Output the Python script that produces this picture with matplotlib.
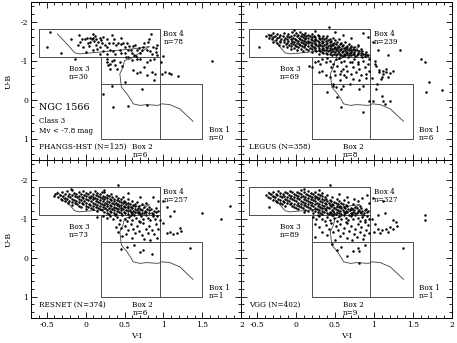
import numpy as np
import matplotlib
matplotlib.use('Agg')
import matplotlib.pyplot as plt
from matplotlib.ticker import MultipleLocator

plt.rcParams['font.family'] = ['DejaVu Serif']
plt.rcParams['axes.unicode_minus'] = False

# isochrone track (V-I, U-B), same in every panel
iso_vi = [-0.36, -0.25, -0.14, -0.08, 0.14, 0.40, 0.61, 0.82, 0.70, 0.57, 0.50, 0.48,
          0.44, 0.45, 0.46, 0.53, 0.59, 0.61, 0.70, 0.78, 0.93, 0.98, 1.08, 1.21, 1.30, 1.38]
iso_ub = [-1.68, -1.45, -1.20, -1.17, -1.21, -1.26, -1.30, -1.36, -1.20, -1.04, -1.00, -0.83,
          -0.66, -0.49, -0.32, -0.15, 0.03, 0.11, 0.15, 0.13, 0.15, 0.11, 0.13, 0.24, 0.41, 0.56]

surveys = ['PHANGS-HST (N=125)', 'LEGUS (N=358)', 'RESNET (N=374)', 'VGG (N=402)']
box_counts = [[0, 6, 30, 78], [6, 8, 69, 239], [1, 6, 73, 257], [1, 9, 89, 327]]

phangs = [
    (-0.45, -1.72), (-0.50, -1.34), (-0.31, -1.20), (-0.19, -1.54), (-0.09, -1.66), (-0.07, -1.47),
    (-0.10, -1.40), (-0.01, -1.54), (0.02, -1.59), (0.06, -1.58), (0.06, -1.48), (0.08, -1.54),
    (0.10, -1.59), (0.11, -1.51), (0.13, -1.40), (0.14, -1.54), (0.16, -1.48), (0.18, -1.59),
    (0.19, -1.35), (0.21, -1.46), (0.23, -1.61), (0.25, -1.40), (0.27, -1.54), (0.31, -1.27),
    (0.34, -1.66), (0.35, -1.46), (0.37, -1.54), (0.39, -1.40), (0.41, -1.46), (0.44, -1.27),
    (0.45, -1.57), (0.48, -1.46), (0.51, -1.35), (0.53, -1.44), (0.55, -1.28), (0.58, -1.27),
    (0.61, -1.37), (0.64, -1.40), (0.66, -1.27), (0.69, -1.31), (0.72, -1.27), (0.75, -1.46),
    (0.79, -1.27), (0.80, -1.48), (0.82, -1.54), (0.84, -1.67), (0.85, -1.18), (0.87, -1.35),
    (0.90, -1.31), (0.92, -1.40), (0.38, -1.16), (0.27, -1.18), (0.19, -1.16), (0.10, -1.27),
    (0.01, -1.22), (-0.03, -1.35), (0.03, -1.46), (0.09, -1.68), (0.12, -1.62), (0.20, -1.52),
    (0.30, -1.45), (0.28, -1.35), (0.46, -1.42), (0.50, -1.20), (0.60, -1.20), (0.70, -1.20),
    (0.62, -1.15), (0.45, -1.20), (0.35, -1.25), (0.15, -1.30), (0.05, -1.37), (0.22, -1.24),
    (0.56, -1.38), (0.74, -1.35), (0.83, -1.25), (0.90, -1.22), (-0.05, -1.55), (0.65, -1.12),
    (-0.14, -1.03), (0.27, -1.05), (0.28, -0.97), (0.29, -0.88), (0.31, -0.92), (0.34, -1.00),
    (0.36, -1.02), (0.38, -0.88), (0.40, -0.79), (0.44, -0.97), (0.52, -1.08), (0.55, -1.10),
    (0.59, -1.01), (0.66, -1.05), (0.70, -1.03), (0.75, -0.84), (0.79, -0.97), (0.83, -1.01),
    (0.88, -1.05), (0.92, -1.13), (0.61, -0.75), (0.66, -0.68), (0.70, -0.71), (0.79, -0.62),
    (0.85, -0.71), (0.89, -0.66), (0.51, -0.45), (0.88, -0.49), (0.32, -0.78), (0.47, -0.85),
    (0.98, -0.66), (1.02, -0.71), (1.07, -0.68), (1.10, -0.66), (1.18, -0.60), (1.62, -0.98),
    (0.97, -0.95), (1.00, -1.12),
    (0.22, -0.13), (0.34, -0.34), (0.35, 0.18), (0.55, 0.16), (0.73, -0.26), (0.79, 0.13)]

legus = [
    (-0.48, -1.35), (-0.38, -1.62), (-0.35, -1.58), (-0.34, -1.66), (-0.32, -1.65), (-0.31, -1.55),
    (-0.30, -1.70), (-0.29, -1.60), (-0.30, -1.48), (-0.27, -1.63), (-0.26, -1.52), (-0.25, -1.67),
    (-0.24, -1.57), (-0.25, -1.45), (-0.22, -1.60), (-0.21, -1.50), (-0.22, -1.40), (-0.20, -1.65),
    (-0.19, -1.55), (-0.20, -1.47), (-0.17, -1.62), (-0.16, -1.52), (-0.17, -1.38), (-0.15, -1.70),
    (-0.14, -1.58), (-0.15, -1.48), (-0.13, -1.42), (-0.12, -1.64), (-0.11, -1.55), (-0.12, -1.45),
    (-0.11, -1.35), (-0.10, -1.68), (-0.09, -1.60), (-0.10, -1.50), (-0.09, -1.40), (-0.07, -1.62),
    (-0.06, -1.55), (-0.07, -1.46), (-0.06, -1.38), (-0.07, -1.30), (-0.05, -1.72), (-0.04, -1.58),
    (-0.05, -1.50), (-0.04, -1.42), (-0.02, -1.65), (-0.01, -1.56), (-0.02, -1.48), (-0.01, -1.40),
    (-0.02, -1.33), (0.00, -1.70), (0.01, -1.62), (0.00, -1.53), (0.01, -1.45), (0.00, -1.37),
    (0.01, -1.28), (0.03, -1.66), (0.04, -1.58), (0.03, -1.50), (0.04, -1.42), (0.03, -1.35),
    (0.05, -1.72), (0.06, -1.63), (0.05, -1.55), (0.06, -1.47), (0.05, -1.40), (0.06, -1.30),
    (0.08, -1.68), (0.09, -1.60), (0.08, -1.52), (0.09, -1.45), (0.08, -1.37), (0.09, -1.25),
    (0.10, -1.65), (0.11, -1.57), (0.10, -1.50), (0.11, -1.42), (0.10, -1.34), (0.12, -1.70),
    (0.13, -1.62), (0.12, -1.54), (0.13, -1.47), (0.12, -1.40), (0.13, -1.30), (0.15, -1.66),
    (0.16, -1.58), (0.15, -1.51), (0.16, -1.44), (0.15, -1.36), (0.16, -1.27), (0.18, -1.63),
    (0.19, -1.55), (0.18, -1.48), (0.19, -1.41), (0.18, -1.33), (0.20, -1.68), (0.21, -1.60),
    (0.20, -1.52), (0.21, -1.45), (0.20, -1.38), (0.21, -1.30), (0.20, -1.22), (0.23, -1.64),
    (0.24, -1.56), (0.23, -1.49), (0.24, -1.42), (0.23, -1.35), (0.24, -1.27), (0.25, -1.60),
    (0.26, -1.53), (0.25, -1.46), (0.26, -1.39), (0.25, -1.31), (0.26, -1.24), (0.28, -1.66),
    (0.29, -1.58), (0.28, -1.50), (0.29, -1.43), (0.28, -1.36), (0.29, -1.28), (0.30, -1.62),
    (0.31, -1.55), (0.30, -1.47), (0.31, -1.40), (0.30, -1.33), (0.31, -1.25), (0.30, -1.18),
    (0.33, -1.58), (0.34, -1.51), (0.33, -1.44), (0.34, -1.37), (0.33, -1.30), (0.34, -1.22),
    (0.35, -1.64), (0.36, -1.54), (0.35, -1.47), (0.36, -1.40), (0.35, -1.33), (0.36, -1.26),
    (0.35, -1.19), (0.38, -1.57), (0.39, -1.49), (0.38, -1.42), (0.39, -1.35), (0.38, -1.28),
    (0.39, -1.20), (0.40, -1.62), (0.41, -1.52), (0.40, -1.45), (0.41, -1.38), (0.40, -1.31),
    (0.41, -1.24), (0.40, -1.16), (0.43, -1.55), (0.44, -1.47), (0.43, -1.40), (0.44, -1.33),
    (0.43, -1.26), (0.44, -1.18), (0.45, -1.50), (0.46, -1.43), (0.45, -1.36), (0.46, -1.29),
    (0.45, -1.22), (0.46, -1.15), (0.48, -1.57), (0.49, -1.46), (0.48, -1.39), (0.49, -1.32),
    (0.48, -1.25), (0.49, -1.17), (0.50, -1.52), (0.51, -1.42), (0.50, -1.35), (0.51, -1.28),
    (0.50, -1.21), (0.51, -1.14), (0.53, -1.47), (0.54, -1.38), (0.53, -1.31), (0.54, -1.24),
    (0.53, -1.17), (0.55, -1.55), (0.56, -1.42), (0.55, -1.34), (0.56, -1.27), (0.55, -1.20),
    (0.56, -1.13), (0.58, -1.45), (0.59, -1.36), (0.58, -1.29), (0.59, -1.22), (0.58, -1.15),
    (0.60, -1.40), (0.61, -1.32), (0.60, -1.25), (0.61, -1.18), (0.60, -1.12), (0.63, -1.48),
    (0.64, -1.35), (0.63, -1.28), (0.64, -1.21), (0.63, -1.14), (0.65, -1.38), (0.66, -1.30),
    (0.65, -1.23), (0.66, -1.16), (0.68, -1.42), (0.69, -1.33), (0.68, -1.26), (0.69, -1.19),
    (0.68, -1.13), (0.70, -1.36), (0.71, -1.28), (0.70, -1.21), (0.71, -1.14), (0.73, -1.30),
    (0.74, -1.23), (0.73, -1.16), (0.75, -1.34), (0.76, -1.26), (0.75, -1.18), (0.76, -1.12),
    (0.78, -1.28), (0.79, -1.20), (0.78, -1.14), (0.80, -1.40), (0.81, -1.24), (0.80, -1.17),
    (0.83, -1.30), (0.84, -1.20), (0.83, -1.13), (0.85, -1.25), (0.86, -1.16), (0.88, -1.18),
    (0.89, -1.12), (0.90, -1.22), (0.91, -1.14), (0.92, -1.60), (0.93, -1.15), (0.86, -1.70),
    (0.42, -1.85), (0.60, -1.65), (0.70, -1.58), (0.50, -1.72), (0.25, -1.75), (-0.02, -1.78),
    (0.17, -0.87), (0.21, -0.83), (0.28, -1.00), (0.31, -0.91), (0.34, -1.04), (0.38, -0.96),
    (0.43, -1.00), (0.45, -0.83), (0.47, -0.91), (0.49, -0.74), (0.51, -1.04), (0.53, -0.87),
    (0.56, -0.66), (0.58, -0.96), (0.60, -0.79), (0.62, -1.00), (0.64, -0.87), (0.66, -0.74),
    (0.69, -0.96), (0.71, -0.66), (0.73, -0.83), (0.75, -1.04), (0.77, -0.70), (0.79, -0.91),
    (0.81, -0.79), (0.84, -0.62), (0.86, -1.00), (0.88, -0.83), (0.90, -0.66), (0.92, -0.91),
    (0.94, -0.74), (0.94, -1.04), (0.64, -0.57), (0.56, -0.49), (0.73, -0.53), (0.81, -0.49),
    (0.47, -0.40), (0.60, -0.36), (0.69, -0.40), (0.86, -0.36), (0.43, -0.57), (0.51, -0.32),
    (0.34, -0.74), (0.38, -0.62), (0.25, -0.95), (0.40, -1.07), (0.55, -1.07), (0.67, -1.08),
    (0.85, -1.08), (0.30, -0.70), (0.72, -0.95), (0.58, -0.73), (0.80, -0.95), (0.90, -0.55),
    (0.62, -0.62), (0.50, -0.62),
    (0.99, -1.48), (1.05, -1.27), (1.18, -1.14), (1.33, -1.27), (1.01, -1.00), (1.03, -0.87),
    (1.07, -0.70), (1.12, -0.74), (1.16, -0.79), (1.20, -0.68), (1.24, -0.74), (1.61, -1.03),
    (1.66, -0.97), (1.71, -0.45), (1.67, -0.19), (1.87, -0.25), (1.01, -0.92), (1.07, -0.75),
    (1.12, -0.66), (1.16, -0.71), (1.18, -0.59), (1.09, -0.53), (0.98, -0.55), (1.04, -0.40),
    (1.10, -0.58),
    (0.58, -0.28), (0.81, -0.28), (0.94, 0.03), (0.86, 0.33), (0.58, 0.18), (0.47, -0.36),
    (0.53, -0.06), (0.40, -0.20),
    (1.03, -0.28), (1.11, 0.03), (1.20, 0.04), (1.14, 0.11), (0.99, 0.03), (1.10, -0.10)]

resnet = [
    (-0.40, -1.58), (-0.39, -1.62), (-0.36, -1.66), (-0.35, -1.55), (-0.33, -1.60), (-0.32, -1.50),
    (-0.30, -1.68), (-0.29, -1.57), (-0.30, -1.47), (-0.27, -1.62), (-0.26, -1.53), (-0.27, -1.44),
    (-0.24, -1.70), (-0.23, -1.58), (-0.24, -1.49), (-0.23, -1.40), (-0.21, -1.64), (-0.20, -1.55),
    (-0.21, -1.46), (-0.18, -1.74), (-0.17, -1.60), (-0.18, -1.51), (-0.17, -1.42), (-0.18, -1.35),
    (-0.15, -1.66), (-0.14, -1.57), (-0.15, -1.48), (-0.14, -1.39), (-0.12, -1.62), (-0.11, -1.54),
    (-0.12, -1.45), (-0.11, -1.36), (-0.09, -1.69), (-0.08, -1.59), (-0.09, -1.50), (-0.08, -1.42),
    (-0.09, -1.33), (-0.06, -1.64), (-0.05, -1.56), (-0.06, -1.47), (-0.05, -1.39), (-0.06, -1.30),
    (-0.03, -1.70), (-0.02, -1.61), (-0.03, -1.53), (-0.02, -1.44), (-0.03, -1.36), (0.00, -1.66),
    (0.01, -1.58), (0.00, -1.50), (0.01, -1.41), (0.00, -1.33), (0.01, -1.25), (0.03, -1.62),
    (0.04, -1.55), (0.03, -1.47), (0.04, -1.38), (0.03, -1.30), (0.06, -1.68), (0.07, -1.59),
    (0.06, -1.52), (0.07, -1.44), (0.06, -1.35), (0.07, -1.27), (0.09, -1.64), (0.10, -1.56),
    (0.09, -1.49), (0.10, -1.41), (0.09, -1.32), (0.10, -1.24), (0.12, -1.71), (0.13, -1.61),
    (0.12, -1.53), (0.13, -1.46), (0.12, -1.38), (0.13, -1.29), (0.15, -1.66), (0.16, -1.58),
    (0.15, -1.50), (0.16, -1.43), (0.15, -1.35), (0.16, -1.27), (0.15, -1.19), (0.18, -1.62),
    (0.19, -1.55), (0.18, -1.47), (0.19, -1.40), (0.18, -1.32), (0.19, -1.24), (0.21, -1.68),
    (0.22, -1.59), (0.21, -1.52), (0.22, -1.44), (0.21, -1.37), (0.22, -1.29), (0.21, -1.21),
    (0.24, -1.67), (0.25, -1.56), (0.24, -1.49), (0.25, -1.41), (0.24, -1.34), (0.25, -1.26),
    (0.24, -1.18), (0.27, -1.60), (0.28, -1.53), (0.27, -1.46), (0.28, -1.38), (0.27, -1.31),
    (0.28, -1.23), (0.27, -1.15), (0.30, -1.57), (0.31, -1.50), (0.30, -1.43), (0.31, -1.35),
    (0.30, -1.28), (0.31, -1.20), (0.30, -1.12), (0.33, -1.62), (0.34, -1.54), (0.33, -1.47),
    (0.34, -1.40), (0.33, -1.32), (0.34, -1.25), (0.33, -1.17), (0.36, -1.51), (0.37, -1.44),
    (0.36, -1.37), (0.37, -1.30), (0.36, -1.22), (0.37, -1.14), (0.39, -1.58), (0.40, -1.48),
    (0.39, -1.41), (0.40, -1.34), (0.39, -1.27), (0.40, -1.19), (0.39, -1.12), (0.42, -1.52),
    (0.43, -1.45), (0.42, -1.38), (0.43, -1.31), (0.42, -1.24), (0.43, -1.16), (0.45, -1.49),
    (0.46, -1.42), (0.45, -1.35), (0.46, -1.28), (0.45, -1.21), (0.46, -1.13), (0.48, -1.55),
    (0.49, -1.46), (0.48, -1.39), (0.49, -1.32), (0.48, -1.25), (0.49, -1.18), (0.51, -1.43),
    (0.52, -1.36), (0.51, -1.29), (0.52, -1.22), (0.51, -1.15), (0.54, -1.50), (0.55, -1.40),
    (0.54, -1.33), (0.55, -1.26), (0.54, -1.19), (0.55, -1.12), (0.57, -1.37), (0.58, -1.30),
    (0.57, -1.23), (0.58, -1.16), (0.60, -1.45), (0.61, -1.34), (0.60, -1.27), (0.61, -1.20),
    (0.60, -1.13), (0.63, -1.38), (0.64, -1.31), (0.63, -1.24), (0.64, -1.17), (0.66, -1.42),
    (0.67, -1.28), (0.66, -1.21), (0.67, -1.14), (0.69, -1.33), (0.70, -1.25), (0.69, -1.18),
    (0.70, -1.12), (0.72, -1.36), (0.73, -1.22), (0.72, -1.15), (0.75, -1.29), (0.76, -1.19),
    (0.75, -1.13), (0.78, -1.40), (0.79, -1.25), (0.78, -1.16), (0.81, -1.30), (0.82, -1.21),
    (0.81, -1.13), (0.84, -1.24), (0.85, -1.15), (0.87, -1.55), (0.88, -1.19), (0.87, -1.12),
    (0.90, -1.28), (0.91, -1.16), (0.93, -1.20),
    (0.42, -1.86), (-0.19, -1.75), (0.24, -1.72), (0.55, -1.65), (0.70, -1.55), (0.93, -1.45),
    (0.22, -1.06), (0.27, -1.02), (0.32, -1.07), (0.35, -0.98), (0.40, -1.04), (0.44, -0.95),
    (0.47, -1.08), (0.50, -1.00), (0.53, -0.93), (0.56, -1.05), (0.59, -0.97), (0.62, -1.08),
    (0.65, -1.01), (0.68, -0.94), (0.71, -1.06), (0.74, -0.99), (0.77, -1.08), (0.80, -1.02),
    (0.83, -0.95), (0.86, -1.06), (0.89, -0.98), (0.92, -1.07), (0.38, -1.09), (0.58, -1.09),
    (0.15, -1.05),
    (0.43, -0.85), (0.45, -0.75), (0.42, -0.65), (0.50, -0.80), (0.55, -0.70), (0.52, -0.60),
    (0.58, -0.86), (0.61, -0.72), (0.64, -0.64), (0.66, -0.80), (0.69, -0.68), (0.72, -0.58),
    (0.74, -0.88), (0.77, -0.74), (0.80, -0.62), (0.82, -0.82), (0.85, -0.70), (0.88, -0.60),
    (0.90, -0.85), (0.93, -0.72), (0.95, -0.95), (0.47, -0.55), (0.60, -0.50), (0.75, -0.48),
    (0.83, -0.45), (0.70, -0.90), (0.92, -0.50), (0.39, -0.78),
    (1.08, -1.06), (1.13, -1.19), (1.04, -0.63), (1.08, -0.65), (1.17, -0.63), (1.21, -0.76),
    (1.23, -0.67), (1.12, -0.60), (1.00, -0.88), (1.49, -1.15), (1.74, -0.99), (1.85, -1.33),
    (1.00, -1.45), (1.05, -1.30),
    (0.53, -0.28), (0.70, -0.14), (0.74, -0.20), (0.62, -0.32), (0.85, -0.10), (0.46, -0.22),
    (1.34, -0.25)]

vgg = [
    (-0.38, -1.60), (-0.35, -1.65), (-0.36, -1.55), (-0.35, -1.30), (-0.32, -1.62), (-0.33, -1.52),
    (-0.29, -1.68), (-0.30, -1.58), (-0.29, -1.48), (-0.26, -1.64), (-0.27, -1.55), (-0.26, -1.45),
    (-0.23, -1.70), (-0.24, -1.60), (-0.23, -1.51), (-0.24, -1.42), (-0.20, -1.66), (-0.21, -1.57),
    (-0.20, -1.48), (-0.21, -1.39), (-0.17, -1.62), (-0.18, -1.54), (-0.17, -1.45), (-0.18, -1.36),
    (-0.14, -1.69), (-0.15, -1.59), (-0.14, -1.51), (-0.15, -1.42), (-0.14, -1.33), (-0.11, -1.65),
    (-0.12, -1.56), (-0.11, -1.48), (-0.12, -1.39), (-0.08, -1.71), (-0.09, -1.61), (-0.08, -1.53),
    (-0.09, -1.44), (-0.08, -1.36), (-0.05, -1.67), (-0.06, -1.58), (-0.05, -1.50), (-0.06, -1.41),
    (-0.05, -1.32), (-0.02, -1.63), (-0.03, -1.55), (-0.02, -1.47), (-0.03, -1.38), (-0.02, -1.29),
    (0.01, -1.69), (0.00, -1.60), (0.01, -1.52), (0.00, -1.44), (0.01, -1.35), (0.00, -1.26),
    (0.04, -1.66), (0.03, -1.57), (0.04, -1.49), (0.03, -1.41), (0.04, -1.32), (0.03, -1.24),
    (0.07, -1.72), (0.06, -1.62), (0.07, -1.54), (0.06, -1.46), (0.07, -1.38), (0.06, -1.29),
    (0.10, -1.68), (0.09, -1.59), (0.10, -1.51), (0.09, -1.43), (0.10, -1.35), (0.09, -1.26),
    (0.10, -1.18), (0.13, -1.64), (0.12, -1.56), (0.13, -1.48), (0.12, -1.40), (0.13, -1.32),
    (0.12, -1.23), (0.16, -1.70), (0.15, -1.61), (0.16, -1.53), (0.15, -1.45), (0.16, -1.37),
    (0.15, -1.29), (0.16, -1.20), (0.19, -1.66), (0.18, -1.58), (0.19, -1.50), (0.18, -1.42),
    (0.19, -1.34), (0.18, -1.26), (0.22, -1.62), (0.21, -1.55), (0.22, -1.47), (0.21, -1.39),
    (0.22, -1.31), (0.21, -1.23), (0.22, -1.15), (0.25, -1.68), (0.24, -1.59), (0.25, -1.52),
    (0.24, -1.44), (0.25, -1.36), (0.24, -1.28), (0.25, -1.20), (0.28, -1.63), (0.27, -1.56),
    (0.28, -1.49), (0.27, -1.41), (0.28, -1.33), (0.27, -1.25), (0.28, -1.17), (0.31, -1.60),
    (0.30, -1.53), (0.31, -1.46), (0.30, -1.38), (0.31, -1.30), (0.30, -1.22), (0.31, -1.14),
    (0.34, -1.65), (0.33, -1.57), (0.34, -1.50), (0.33, -1.43), (0.34, -1.35), (0.33, -1.27),
    (0.34, -1.19), (0.33, -1.12), (0.37, -1.54), (0.36, -1.47), (0.37, -1.40), (0.36, -1.32),
    (0.37, -1.24), (0.36, -1.16), (0.40, -1.60), (0.39, -1.51), (0.40, -1.44), (0.39, -1.37),
    (0.40, -1.29), (0.39, -1.21), (0.40, -1.13), (0.43, -1.48), (0.42, -1.41), (0.43, -1.34),
    (0.42, -1.26), (0.43, -1.18), (0.42, -1.11), (0.46, -1.56), (0.45, -1.45), (0.46, -1.38),
    (0.45, -1.31), (0.46, -1.23), (0.45, -1.15), (0.49, -1.42), (0.48, -1.35), (0.49, -1.28),
    (0.48, -1.20), (0.49, -1.13), (0.52, -1.50), (0.51, -1.39), (0.52, -1.32), (0.51, -1.25),
    (0.52, -1.17), (0.51, -1.11), (0.55, -1.44), (0.54, -1.36), (0.55, -1.29), (0.54, -1.22),
    (0.55, -1.14), (0.58, -1.40), (0.57, -1.33), (0.58, -1.26), (0.57, -1.19), (0.58, -1.12),
    (0.61, -1.47), (0.60, -1.37), (0.61, -1.30), (0.60, -1.23), (0.61, -1.16), (0.64, -1.34),
    (0.63, -1.27), (0.64, -1.20), (0.63, -1.13), (0.67, -1.42), (0.66, -1.31), (0.67, -1.24),
    (0.66, -1.17), (0.70, -1.28), (0.69, -1.21), (0.70, -1.14), (0.73, -1.38), (0.72, -1.25),
    (0.73, -1.18), (0.72, -1.12), (0.76, -1.30), (0.75, -1.22), (0.76, -1.15), (0.79, -1.44),
    (0.78, -1.26), (0.79, -1.19), (0.78, -1.13), (0.82, -1.32), (0.81, -1.23), (0.82, -1.16),
    (0.85, -1.52), (0.84, -1.27), (0.85, -1.19), (0.84, -1.13), (0.88, -1.22), (0.87, -1.15),
    (0.91, -1.60), (0.90, -1.25), (0.91, -1.17), (0.94, -1.40), (0.93, -1.19),
    (0.43, -1.85), (0.10, -1.76), (0.30, -1.72), (0.55, -1.62), (0.65, -1.55), (0.75, -1.50),
    (0.22, -1.05), (0.26, -0.98), (0.30, -1.07), (0.34, -1.00), (0.37, -0.93), (0.40, -1.05),
    (0.43, -0.97), (0.46, -1.08), (0.49, -1.01), (0.52, -0.94), (0.55, -1.06), (0.58, -0.99),
    (0.61, -1.08), (0.64, -1.02), (0.67, -0.95), (0.70, -1.06), (0.73, -0.98), (0.76, -1.08),
    (0.79, -1.01), (0.82, -0.94), (0.85, -1.05), (0.88, -0.97), (0.91, -1.07), (0.94, -1.00),
    (0.28, -1.09), (0.48, -1.09), (0.68, -1.09), (0.86, -1.09),
    (0.24, -0.85), (0.30, -0.78), (0.38, -0.84), (0.42, -0.72), (0.45, -0.88), (0.48, -0.65),
    (0.51, -0.80), (0.54, -0.70), (0.57, -0.86), (0.60, -0.62), (0.62, -0.75), (0.65, -0.88),
    (0.68, -0.68), (0.71, -0.80), (0.74, -0.60), (0.76, -0.73), (0.79, -0.87), (0.82, -0.66),
    (0.84, -0.78), (0.87, -0.58), (0.90, -0.70), (0.92, -0.84), (0.94, -0.62), (0.56, -0.55),
    (0.66, -0.50), (0.78, -0.52), (0.86, -0.47), (0.50, -0.45), (0.72, -0.44), (0.40, -0.58),
    (0.33, -0.65), (0.25, -0.52), (0.64, -0.92), (0.88, -0.90),
    (0.99, -1.53), (1.12, -1.44), (1.14, -1.15), (1.24, -0.97), (1.30, -0.82), (1.28, -0.90),
    (1.20, -0.77), (1.15, -0.72), (1.10, -0.70), (1.05, -0.72), (1.00, -0.65), (1.08, -0.62),
    (1.18, -0.66), (1.25, -0.72), (1.65, -1.08), (1.65, -0.97), (1.02, -0.85), (0.98, -1.00),
    (1.05, -1.10),
    (0.58, -0.27), (0.73, -0.16), (0.79, -0.25), (0.81, -0.16), (0.81, 0.14), (0.46, -0.34),
    (0.65, -0.05), (0.88, -0.32), (0.52, -0.20),
    (1.37, -0.25)]

samples = [phangs, legus, resnet, vgg]

fig = plt.figure(figsize=(4.57, 3.43), dpi=100)
W, H = 0.4605, 0.4606
positions = [(0.0678, 0.5335), (0.5283, 0.5335), (0.0678, 0.0729), (0.5283, 0.0729)]

for i in range(4):
    ax = fig.add_axes([positions[i][0], positions[i][1], W, H])
    ax.set_xlim(-0.7, 2.0)
    ax.set_ylim(1.55, -2.5)

    # selection boxes
    ax.plot([-0.6, 0.95, 0.95, -0.6, -0.6], [-1.8, -1.8, -1.1, -1.1, -1.8], color='0.3', lw=0.7)
    ax.plot([0.2, 0.95, 0.95, 0.2, 0.2], [-1.1, -1.1, 1.0, 1.0, -1.1], color='0.3', lw=0.7)
    ax.plot([0.2, 1.5, 1.5, 0.95], [-0.4, -0.4, 1.0, 1.0], color='0.3', lw=0.7)

    ax.plot(iso_vi, iso_ub, color='0.25', lw=0.6)

    pts = np.array(samples[i])
    ax.plot(pts[:, 0], pts[:, 1], 'o', color='k', ms=1.8, mew=0)

    n1, n2, n3, n4 = box_counts[i]
    fs = 5.2
    ax.text(1.0, -1.79, 'Box 4\nn=%d' % n4, fontsize=fs, va='top', linespacing=1.0)
    ax.text(-0.21, -0.89, 'Box 3\nn=%d' % n3, fontsize=fs, va='top', linespacing=1.0)
    ax.text(0.6, 1.12, 'Box 2\nn=%d' % n2, fontsize=fs, va='top', linespacing=1.0)
    ax.text(1.58, 0.67, 'Box 1\nn=%d' % n1, fontsize=fs, va='top', linespacing=1.0)
    ax.text(-0.6, 1.12, surveys[i], fontsize=fs, va='top')

    if i == 0:
        ax.text(-0.6, 0.28, 'NGC 1566', fontsize=6.8)
        ax.text(-0.6, 0.44, 'Class 3', fontsize=fs, va='top')
        ax.text(-0.6, 0.71, 'Mv < -7.8 mag', fontsize=fs, va='top')

    ax.xaxis.set_major_locator(MultipleLocator(0.5))
    ax.xaxis.set_minor_locator(MultipleLocator(0.1))
    ax.yaxis.set_major_locator(MultipleLocator(1))
    ax.yaxis.set_minor_locator(MultipleLocator(0.2))
    ax.tick_params(which='both', direction='in', top=True, right=True, width=0.6,
                   labelsize=5.5, pad=2)
    ax.tick_params(which='major', length=4)
    ax.tick_params(which='minor', length=2)
    ax.set_xticks([-0.5, 0, 0.5, 1, 1.5, 2])
    ax.set_xticklabels(['-0.5', '0', '0.5', '1', '1.5', '2'])
    ax.set_yticks([-2, -1, 0, 1])
    ax.set_yticklabels(['-2', '-1', '0', '1'])
    for s in ax.spines.values():
        s.set_linewidth(0.7)

    if i >= 2:
        ax.set_xlabel('V-I', fontsize=5.8, labelpad=2)
    else:
        ax.tick_params(labelbottom=False)
    if i % 2 == 0:
        ax.set_ylabel('U-B', fontsize=5.8, labelpad=6)
    else:
        ax.tick_params(labelleft=False)

fig.savefig('out.png', dpi=100)
